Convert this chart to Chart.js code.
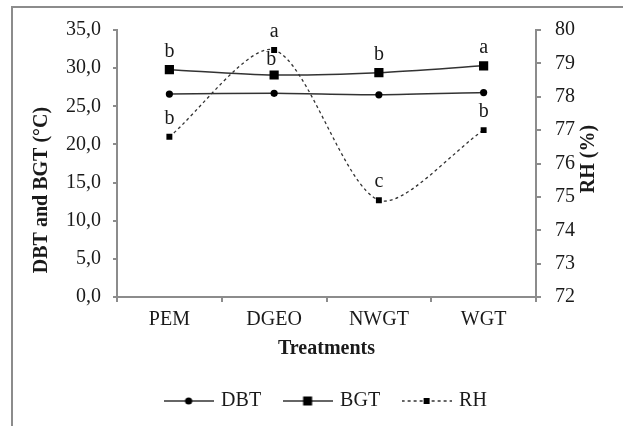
<!DOCTYPE html>
<html>
<head>
<meta charset="utf-8">
<script src="https://cdn.jsdelivr.net/npm/chart.js@4.4.1/dist/chart.umd.min.js"></script>
<style>
  html, body { margin: 0; padding: 0; background: #fff; }
  #chart { display: block; }
</style>
</head>
<body>
<canvas id="chart" width="623" height="426"></canvas>
<script>
// --- data ---
const treatments = ['PEM', 'DGEO', 'NWGT', 'WGT'];
const dbtValues = [26.6, 26.7, 26.5, 26.8];   // °C, left axis
const bgtValues = [29.8, 29.1, 29.4, 30.3];   // °C, left axis
const rhValues = [76.8, 79.4, 74.9, 77.0];    // %, right axis
const bgtLetters = ['b', 'b', 'b', 'a'];
const rhLetters = ['b', 'a', 'c', 'b'];
const leftTitle = 'DBT and BGT (°C)';
const rightTitle = 'RH (%)';

const SERIF = '"Liberation Serif", "Times New Roman", serif';
const INK = '#1a1a1a';
const AXIS = '#8c8c8c';

// small canvases used as legend symbols (line + marker)
function legendSymbol(kind) {
  const c = document.createElement('canvas');
  c.width = 50; c.height = 12;
  const g = c.getContext('2d');
  g.strokeStyle = '#333';
  g.lineWidth = 1.5;
  if (kind === 'rh') g.setLineDash([3, 3]);
  g.beginPath(); g.moveTo(0, 6); g.lineTo(50, 6); g.stroke();
  g.setLineDash([]);
  g.fillStyle = '#000';
  if (kind === 'dbt') { g.beginPath(); g.arc(25, 6, 3.6, 0, Math.PI * 2); g.fill(); }
  if (kind === 'bgt') g.fillRect(20.5, 1.5, 9, 9);
  if (kind === 'rh') g.fillRect(22, 3, 6, 6);
  return c;
}
const symbols = [legendSymbol('dbt'), legendSymbol('bgt'), legendSymbol('rh')];

// gray frame around the figure (left and top edges only)
const framePlugin = {
  id: 'frame',
  beforeDraw(chart) {
    const ctx = chart.ctx;
    ctx.save();
    ctx.fillStyle = '#fff';
    ctx.fillRect(0, 0, chart.width, chart.height);
    ctx.strokeStyle = AXIS;
    ctx.lineWidth = 2;
    ctx.beginPath();
    ctx.moveTo(12, chart.height);
    ctx.lineTo(12, 7);
    ctx.lineTo(chart.width, 7);
    ctx.stroke();
    ctx.restore();
  }
};

// y axis titles, both read bottom-to-top like in Excel
const axisTitlesPlugin = {
  id: 'axisTitles',
  afterDraw(chart) {
    const ctx = chart.ctx;
    const area = chart.chartArea;
    ctx.save();
    ctx.font = 'bold 20px ' + SERIF;
    ctx.fillStyle = INK;
    ctx.textAlign = 'center';
    ctx.textBaseline = 'middle';
    [[leftTitle, chart.scales.y.left + 16, area.top + 160],
     [rightTitle, chart.scales.y1.right - 15, area.top + 129]].forEach(([txt, x, y]) => {
      ctx.save();
      ctx.translate(x, y);
      ctx.rotate(-Math.PI / 2);
      ctx.fillText(txt, 0, 0);
      ctx.restore();
    });
    ctx.restore();
  }
};

// significance letters above BGT and RH points
const lettersPlugin = {
  id: 'letters',
  afterDatasetsDraw(chart) {
    const ctx = chart.ctx;
    ctx.save();
    ctx.font = '20px ' + SERIF;
    ctx.fillStyle = INK;
    ctx.textAlign = 'center';
    ctx.textBaseline = 'middle';
    const sets = [[1, bgtLetters], [2, rhLetters]];
    sets.forEach(([dsIndex, letters]) => {
      chart.getDatasetMeta(dsIndex).data.forEach((pt, i) => {
        let dx = 0, dy = -18;
        // DGEO BGT letter sits tucked under the RH "a"
        if (dsIndex === 1 && i === 1) { dx = -3; dy = -15; }
        ctx.fillText(letters[i], pt.x + dx, pt.y + dy);
      });
    });
    ctx.restore();
  }
};

new Chart(document.getElementById('chart'), {
  type: 'line',
  data: {
    labels: treatments,
    datasets: [
      {
        label: 'DBT',
        data: dbtValues,
        yAxisID: 'y',
        borderColor: '#333',
        borderWidth: 1.5,
        pointStyle: 'circle',
        pointRadius: 3.6,
        pointBackgroundColor: '#000',
        pointBorderWidth: 0,
        tension: 0.28
      },
      {
        label: 'BGT',
        data: bgtValues,
        yAxisID: 'y',
        borderColor: '#333',
        borderWidth: 1.5,
        pointStyle: 'rect',
        pointRadius: 6.5,
        pointBackgroundColor: '#000',
        pointBorderWidth: 0,
        tension: 0.28
      },
      {
        label: 'RH',
        data: rhValues,
        yAxisID: 'y1',
        borderColor: '#333',
        borderWidth: 1.3,
        borderDash: [3, 3],
        pointStyle: 'rect',
        pointRadius: 4.2,
        pointBackgroundColor: '#000',
        pointBorderWidth: 0,
        tension: 0.28
      }
    ]
  },
  options: {
    responsive: false,
    animation: false,
    layout: { padding: { left: 26, right: 19, top: 30, bottom: 5 } },
    scales: {
      x: {
        offset: true,
        afterFit: (s) => { s.height = 70; },
        border: { display: true, color: AXIS, width: 2 },
        grid: { display: true, offset: true, drawOnChartArea: false, drawTicks: true, tickLength: 5, color: AXIS, lineWidth: 2 },
        ticks: { color: INK, padding: 6, font: { family: SERIF, size: 20 } },
        title: {
          display: true,
          text: 'Treatments',
          color: INK,
          padding: { top: 4, bottom: 6 },
          font: { family: SERIF, size: 20, weight: 'bold' }
        }
      },
      y: {
        position: 'left',
        min: 0,
        max: 35,
        afterFit: (s) => { s.width = 91; },
        border: { display: true, color: AXIS, width: 2 },
        grid: { display: true, drawOnChartArea: false, drawTicks: true, tickLength: 4, color: AXIS, lineWidth: 2 },
        ticks: {
          stepSize: 5,
          color: INK,
          padding: 12,
          font: { family: SERIF, size: 20 },
          callback: (v) => v.toFixed(1).replace('.', ',')
        }
      },
      y1: {
        position: 'right',
        min: 72,
        max: 80,
        afterFit: (s) => { s.width = 68; },
        border: { display: true, color: AXIS, width: 2 },
        grid: { display: true, drawOnChartArea: false, drawTicks: true, tickLength: 5, color: AXIS, lineWidth: 2 },
        ticks: { stepSize: 1, color: INK, padding: 14, font: { family: SERIF, size: 20 } }
      }
    },
    plugins: {
      legend: {
        position: 'bottom',
        fullSize: false,
        labels: {
          usePointStyle: true,
          pointStyleWidth: 45,
          padding: 24,
          color: INK,
          font: { family: SERIF, size: 20 },
          generateLabels: (chart) => chart.data.datasets.map((ds, i) => ({
            text: ds.label,
            pointStyle: symbols[i],
            datasetIndex: i,
            fontColor: INK,
            hidden: false,
            lineWidth: 0
          }))
        }
      },
      tooltip: { enabled: false }
    }
  },
  plugins: [framePlugin, axisTitlesPlugin, lettersPlugin]
});
</script>
</body>
</html>
